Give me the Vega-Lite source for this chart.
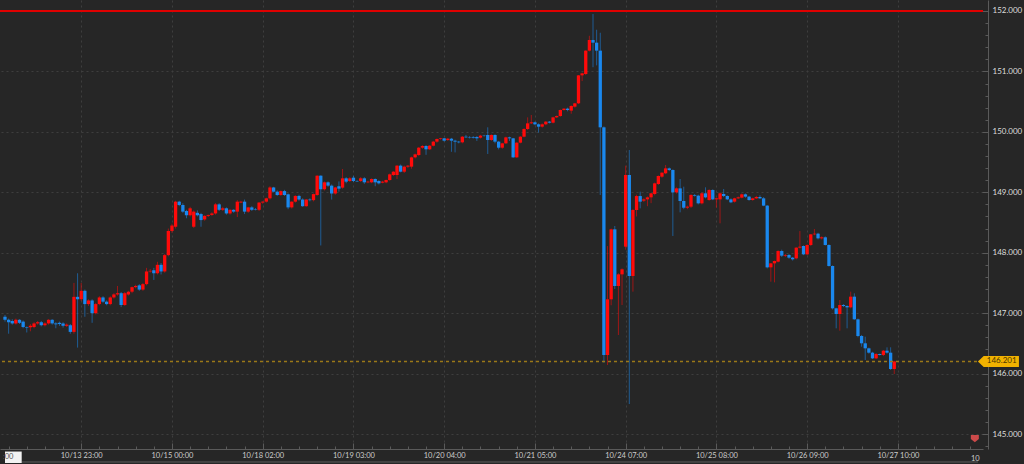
{
"$schema": "https://vega.github.io/schema/vega-lite/v6.json",
"width": 983, "height": 449,
"autosize": {"type": "none"},
"padding": {"left": 0, "top": 0, "right": 41, "bottom": 15},
"background": "#262626",
"config": {"view": {"stroke": null}, "axis": {"labelOverlap": false, "labelFlush": false, "labelBound": false, "tickCount": 1000}},
"datasets": {"one": [{}], "bars": [
{"i":-21,"o":146.94,"h":146.97,"l":146.86,"c":146.89},
{"i":-20,"o":146.89,"h":146.91,"l":146.66,"c":146.85},
{"i":-19,"o":146.87,"h":146.90,"l":146.81,"c":146.83},
{"i":-18,"o":146.83,"h":146.91,"l":146.81,"c":146.89},
{"i":-17,"o":146.89,"h":146.90,"l":146.82,"c":146.84},
{"i":-16,"o":146.86,"h":146.88,"l":146.75,"c":146.77},
{"i":-15,"o":146.77,"h":146.78,"l":146.68,"c":146.76},
{"i":-14,"o":146.765,"h":146.82,"l":146.70,"c":146.79},
{"i":-13,"o":146.77,"h":146.85,"l":146.75,"c":146.83},
{"i":-12,"o":146.83,"h":146.87,"l":146.81,"c":146.85},
{"i":-11,"o":146.85,"h":146.87,"l":146.78,"c":146.80},
{"i":-10,"o":146.80,"h":146.85,"l":146.78,"c":146.83},
{"i":-9,"o":146.83,"h":146.90,"l":146.81,"c":146.89},
{"i":-8,"o":146.89,"h":146.90,"l":146.81,"c":146.83},
{"i":-7,"o":146.83,"h":146.85,"l":146.75,"c":146.815},
{"i":-6,"o":146.84,"h":146.86,"l":146.79,"c":146.82},
{"i":-5,"o":146.83,"h":146.85,"l":146.76,"c":146.79},
{"i":-4,"o":146.79,"h":146.83,"l":146.77,"c":146.81},
{"i":-3,"o":146.80,"h":146.82,"l":146.66,"c":146.69},
{"i":-2,"o":146.69,"h":147.50,"l":146.66,"c":147.27},
{"i":-1,"o":147.27,"h":147.66,"l":146.43,"c":147.23},
{"i":0,"o":147.23,"h":147.50,"l":147.20,"c":147.37},
{"i":1,"o":147.37,"h":147.39,"l":146.94,"c":147.15},
{"i":2,"o":147.15,"h":147.23,"l":147.12,"c":147.21},
{"i":3,"o":147.21,"h":147.23,"l":146.84,"c":147.00},
{"i":4,"o":147.00,"h":147.17,"l":146.98,"c":147.15},
{"i":5,"o":147.15,"h":147.28,"l":147.13,"c":147.26},
{"i":6,"o":147.26,"h":147.28,"l":147.17,"c":147.19},
{"i":7,"o":147.19,"h":147.21,"l":147.13,"c":147.15},
{"i":8,"o":147.15,"h":147.28,"l":147.13,"c":147.26},
{"i":9,"o":147.26,"h":147.33,"l":147.24,"c":147.31},
{"i":10,"o":147.31,"h":147.45,"l":147.29,"c":147.33},
{"i":11,"o":147.33,"h":147.35,"l":147.10,"c":147.135},
{"i":12,"o":147.135,"h":147.35,"l":147.12,"c":147.33},
{"i":13,"o":147.31,"h":147.37,"l":147.29,"c":147.355},
{"i":14,"o":147.355,"h":147.44,"l":147.33,"c":147.43},
{"i":15,"o":147.43,"h":147.47,"l":147.41,"c":147.45},
{"i":16,"o":147.46,"h":147.48,"l":147.37,"c":147.39},
{"i":17,"o":147.39,"h":147.50,"l":147.37,"c":147.48},
{"i":18,"o":147.48,"h":147.75,"l":147.46,"c":147.69},
{"i":19,"o":147.69,"h":147.73,"l":147.67,"c":147.70},
{"i":20,"o":147.71,"h":147.75,"l":147.55,"c":147.66},
{"i":21,"o":147.66,"h":147.85,"l":147.64,"c":147.80},
{"i":22,"o":147.80,"h":147.83,"l":147.64,"c":147.69},
{"i":23,"o":147.69,"h":147.98,"l":147.67,"c":147.96},
{"i":24,"o":147.96,"h":148.40,"l":147.94,"c":148.36},
{"i":25,"o":148.36,"h":148.48,"l":148.33,"c":148.45},
{"i":26,"o":148.43,"h":148.86,"l":148.40,"c":148.845},
{"i":27,"o":148.845,"h":148.86,"l":148.77,"c":148.79},
{"i":28,"o":148.79,"h":148.82,"l":148.66,"c":148.68},
{"i":29,"o":148.69,"h":148.71,"l":148.57,"c":148.62},
{"i":30,"o":148.62,"h":148.76,"l":148.60,"c":148.735},
{"i":31,"o":148.43,"h":148.70,"l":148.41,"c":148.68},
{"i":32,"o":148.66,"h":148.70,"l":148.60,"c":148.62},
{"i":33,"o":148.64,"h":148.66,"l":148.43,"c":148.54},
{"i":34,"o":148.55,"h":148.62,"l":148.53,"c":148.61},
{"i":35,"o":148.61,"h":148.63,"l":148.59,"c":148.625},
{"i":36,"o":148.625,"h":148.67,"l":148.61,"c":148.65},
{"i":37,"o":148.65,"h":148.82,"l":148.63,"c":148.80},
{"i":38,"o":148.80,"h":148.82,"l":148.69,"c":148.71},
{"i":39,"o":148.71,"h":148.76,"l":148.69,"c":148.735},
{"i":40,"o":148.735,"h":148.75,"l":148.63,"c":148.65},
{"i":41,"o":148.65,"h":148.72,"l":148.63,"c":148.71},
{"i":42,"o":148.71,"h":148.72,"l":148.66,"c":148.68},
{"i":43,"o":148.68,"h":148.87,"l":148.59,"c":148.845},
{"i":44,"o":148.83,"h":148.86,"l":148.82,"c":148.845},
{"i":45,"o":148.845,"h":148.88,"l":148.64,"c":148.68},
{"i":46,"o":148.68,"h":148.76,"l":148.66,"c":148.75},
{"i":47,"o":148.75,"h":148.77,"l":148.69,"c":148.71},
{"i":48,"o":148.72,"h":148.74,"l":148.70,"c":148.71},
{"i":49,"o":148.71,"h":148.84,"l":148.69,"c":148.83},
{"i":50,"o":148.83,"h":148.85,"l":148.81,"c":148.845},
{"i":51,"o":148.845,"h":148.91,"l":148.83,"c":148.90},
{"i":52,"o":148.90,"h":149.10,"l":148.88,"c":149.08},
{"i":53,"o":149.08,"h":149.09,"l":149.00,"c":149.01},
{"i":54,"o":149.01,"h":149.03,"l":148.94,"c":148.955},
{"i":55,"o":148.955,"h":149.03,"l":148.94,"c":149.02},
{"i":56,"o":149.02,"h":149.04,"l":148.94,"c":148.955},
{"i":57,"o":148.966,"h":148.98,"l":148.72,"c":148.75},
{"i":58,"o":148.75,"h":148.85,"l":148.73,"c":148.845},
{"i":59,"o":148.845,"h":148.95,"l":148.83,"c":148.94},
{"i":60,"o":148.94,"h":148.96,"l":148.86,"c":148.88},
{"i":61,"o":148.88,"h":148.90,"l":148.76,"c":148.77},
{"i":62,"o":148.77,"h":148.89,"l":148.76,"c":148.88},
{"i":63,"o":148.88,"h":148.90,"l":148.85,"c":148.87},
{"i":64,"o":148.87,"h":148.98,"l":148.85,"c":148.97},
{"i":65,"o":148.955,"h":149.28,"l":148.94,"c":149.275},
{"i":66,"o":149.275,"h":149.28,"l":148.12,"c":149.05},
{"i":67,"o":149.05,"h":149.18,"l":149.03,"c":149.165},
{"i":68,"o":149.165,"h":149.18,"l":149.09,"c":149.11},
{"i":69,"o":149.11,"h":149.13,"l":148.88,"c":148.98},
{"i":70,"o":148.98,"h":149.09,"l":148.96,"c":149.08},
{"i":71,"o":149.10,"h":149.18,"l":149.01,"c":149.06},
{"i":72,"o":149.077,"h":149.385,"l":149.06,"c":149.231},
{"i":73,"o":149.231,"h":149.25,"l":149.15,"c":149.176},
{"i":74,"o":149.187,"h":149.25,"l":149.17,"c":149.231},
{"i":75,"o":149.242,"h":149.275,"l":149.17,"c":149.187},
{"i":76,"o":149.187,"h":149.20,"l":149.17,"c":149.18},
{"i":77,"o":149.187,"h":149.25,"l":149.17,"c":149.231},
{"i":78,"o":149.231,"h":149.25,"l":149.14,"c":149.165},
{"i":79,"o":149.165,"h":149.19,"l":149.15,"c":149.176},
{"i":80,"o":149.165,"h":149.23,"l":149.15,"c":149.22},
{"i":81,"o":149.22,"h":149.23,"l":149.10,"c":149.165},
{"i":82,"o":149.187,"h":149.20,"l":149.13,"c":149.148},
{"i":83,"o":149.159,"h":149.19,"l":149.15,"c":149.176},
{"i":84,"o":149.165,"h":149.21,"l":149.15,"c":149.203},
{"i":85,"o":149.203,"h":149.31,"l":149.19,"c":149.297},
{"i":86,"o":149.286,"h":149.35,"l":149.27,"c":149.341},
{"i":87,"o":149.286,"h":149.45,"l":149.22,"c":149.441},
{"i":88,"o":149.441,"h":149.46,"l":149.33,"c":149.341},
{"i":89,"o":149.341,"h":149.44,"l":149.32,"c":149.424},
{"i":90,"o":149.424,"h":149.45,"l":149.40,"c":149.441},
{"i":91,"o":149.424,"h":149.59,"l":149.39,"c":149.578},
{"i":92,"o":149.578,"h":149.64,"l":149.56,"c":149.628},
{"i":93,"o":149.617,"h":149.75,"l":149.60,"c":149.738},
{"i":94,"o":149.738,"h":149.78,"l":149.72,"c":149.766},
{"i":95,"o":149.766,"h":149.78,"l":149.62,"c":149.711},
{"i":96,"o":149.711,"h":149.78,"l":149.70,"c":149.771},
{"i":97,"o":149.771,"h":149.85,"l":149.76,"c":149.838},
{"i":98,"o":149.838,"h":149.89,"l":149.82,"c":149.882},
{"i":99,"o":149.882,"h":149.90,"l":149.87,"c":149.893},
{"i":100,"o":149.893,"h":149.90,"l":149.84,"c":149.854},
{"i":101,"o":149.865,"h":149.90,"l":149.85,"c":149.887},
{"i":102,"o":149.887,"h":149.90,"l":149.67,"c":149.854},
{"i":103,"o":149.854,"h":149.87,"l":149.66,"c":149.838},
{"i":104,"o":149.838,"h":149.85,"l":149.81,"c":149.827},
{"i":105,"o":149.827,"h":149.93,"l":149.81,"c":149.920},
{"i":106,"o":149.920,"h":149.95,"l":149.90,"c":149.909},
{"i":107,"o":149.912,"h":149.93,"l":149.89,"c":149.905},
{"i":108,"o":149.915,"h":149.93,"l":149.89,"c":149.904},
{"i":109,"o":149.915,"h":149.93,"l":149.85,"c":149.893},
{"i":110,"o":149.904,"h":149.95,"l":149.89,"c":149.937},
{"i":111,"o":149.937,"h":149.95,"l":149.92,"c":149.932},
{"i":112,"o":149.948,"h":150.075,"l":149.634,"c":149.865},
{"i":113,"o":149.865,"h":149.96,"l":149.85,"c":149.948},
{"i":114,"o":149.948,"h":149.96,"l":149.81,"c":149.838},
{"i":115,"o":149.838,"h":149.85,"l":149.71,"c":149.738},
{"i":116,"o":149.738,"h":149.82,"l":149.72,"c":149.810},
{"i":117,"o":149.810,"h":149.92,"l":149.80,"c":149.909},
{"i":118,"o":149.909,"h":149.92,"l":149.85,"c":149.893},
{"i":119,"o":149.893,"h":149.90,"l":149.57,"c":149.578},
{"i":120,"o":149.578,"h":149.83,"l":149.57,"c":149.821},
{"i":121,"o":149.821,"h":149.93,"l":149.81,"c":149.920},
{"i":122,"o":149.920,"h":150.06,"l":149.91,"c":150.047},
{"i":123,"o":150.047,"h":150.24,"l":150.03,"c":150.141},
{"i":124,"o":150.141,"h":150.28,"l":150.13,"c":150.158},
{"i":125,"o":150.158,"h":150.17,"l":150.11,"c":150.125},
{"i":126,"o":150.125,"h":150.14,"l":149.987,"c":150.086},
{"i":127,"o":150.086,"h":150.14,"l":150.07,"c":150.125},
{"i":128,"o":150.125,"h":150.18,"l":150.11,"c":150.169},
{"i":129,"o":150.169,"h":150.18,"l":150.14,"c":150.152},
{"i":130,"o":150.152,"h":150.25,"l":150.14,"c":150.240},
{"i":131,"o":150.240,"h":150.27,"l":150.23,"c":150.262},
{"i":132,"o":150.262,"h":150.37,"l":150.25,"c":150.362},
{"i":133,"o":150.362,"h":150.39,"l":150.35,"c":150.384},
{"i":134,"o":150.384,"h":150.40,"l":150.34,"c":150.362},
{"i":135,"o":150.351,"h":150.44,"l":150.30,"c":150.428},
{"i":136,"o":150.417,"h":150.48,"l":150.40,"c":150.472},
{"i":137,"o":150.472,"h":150.94,"l":150.46,"c":150.935},
{"i":138,"o":150.935,"h":150.98,"l":150.84,"c":150.968},
{"i":139,"o":150.957,"h":151.35,"l":150.94,"c":151.344},
{"i":140,"o":151.344,"h":151.59,"l":151.33,"c":151.520},
{"i":141,"o":151.520,"h":151.95,"l":151.07,"c":151.476},
{"i":142,"o":151.476,"h":151.69,"l":151.10,"c":151.344},
{"i":143,"o":151.344,"h":151.64,"l":148.955,"c":150.075},
{"i":144,"o":150.075,"h":150.09,"l":146.18,"c":146.307},
{"i":145,"o":146.307,"h":148.11,"l":146.142,"c":147.229},
{"i":146,"o":147.229,"h":148.40,"l":147.13,"c":148.387},
{"i":147,"o":148.387,"h":148.442,"l":147.40,"c":147.449},
{"i":148,"o":147.449,"h":147.66,"l":146.638,"c":147.642},
{"i":149,"o":147.642,"h":147.74,"l":147.135,"c":147.725},
{"i":150,"o":148.100,"h":149.441,"l":148.05,"c":149.286},
{"i":151,"o":149.286,"h":149.700,"l":145.496,"c":147.615},
{"i":152,"o":147.615,"h":148.72,"l":147.355,"c":148.707},
{"i":153,"o":148.707,"h":148.96,"l":148.60,"c":148.938},
{"i":154,"o":148.938,"h":149.010,"l":148.734,"c":148.845},
{"i":155,"o":148.861,"h":148.90,"l":148.84,"c":148.883},
{"i":156,"o":148.883,"h":148.93,"l":148.77,"c":148.916},
{"i":157,"o":148.916,"h":148.99,"l":148.82,"c":148.983},
{"i":158,"o":148.972,"h":149.16,"l":148.95,"c":149.148},
{"i":159,"o":149.137,"h":149.28,"l":149.12,"c":149.270},
{"i":160,"o":149.258,"h":149.33,"l":149.24,"c":149.325},
{"i":161,"o":149.314,"h":149.452,"l":149.30,"c":149.396},
{"i":162,"o":149.396,"h":149.41,"l":149.35,"c":149.369},
{"i":163,"o":149.369,"h":149.38,"l":148.277,"c":148.999},
{"i":164,"o":148.999,"h":149.08,"l":148.98,"c":149.065},
{"i":165,"o":149.065,"h":149.220,"l":148.668,"c":148.856},
{"i":166,"o":148.856,"h":149.093,"l":148.72,"c":148.745},
{"i":167,"o":148.745,"h":148.78,"l":148.72,"c":148.762},
{"i":168,"o":148.762,"h":148.97,"l":148.74,"c":148.955},
{"i":169,"o":148.955,"h":148.97,"l":148.93,"c":148.944},
{"i":170,"o":148.944,"h":148.96,"l":148.80,"c":148.817},
{"i":171,"o":148.817,"h":149.00,"l":148.80,"c":148.983},
{"i":172,"o":148.983,"h":149.082,"l":148.90,"c":148.916},
{"i":173,"o":148.872,"h":149.05,"l":148.86,"c":149.038},
{"i":174,"o":149.038,"h":149.05,"l":148.87,"c":148.883},
{"i":175,"o":148.883,"h":148.91,"l":148.745,"c":148.900},
{"i":176,"o":148.883,"h":149.00,"l":148.486,"c":148.983},
{"i":177,"o":148.972,"h":149.054,"l":148.92,"c":148.939},
{"i":178,"o":148.939,"h":148.95,"l":148.87,"c":148.883},
{"i":179,"o":148.883,"h":148.90,"l":148.82,"c":148.834},
{"i":180,"o":148.845,"h":148.91,"l":148.83,"c":148.900},
{"i":181,"o":148.900,"h":148.93,"l":148.89,"c":148.916},
{"i":182,"o":148.911,"h":148.98,"l":148.90,"c":148.966},
{"i":183,"o":148.966,"h":148.98,"l":148.91,"c":148.928},
{"i":184,"o":148.928,"h":148.94,"l":148.86,"c":148.872},
{"i":185,"o":148.872,"h":148.91,"l":148.86,"c":148.900},
{"i":186,"o":148.900,"h":148.94,"l":148.89,"c":148.922},
{"i":187,"o":148.922,"h":148.95,"l":148.89,"c":148.900},
{"i":188,"o":148.900,"h":148.92,"l":148.77,"c":148.779},
{"i":189,"o":148.779,"h":148.79,"l":147.74,"c":147.758},
{"i":190,"o":147.758,"h":147.83,"l":147.521,"c":147.824},
{"i":191,"o":147.824,"h":147.87,"l":147.510,"c":147.863},
{"i":192,"o":147.852,"h":148.04,"l":147.84,"c":148.028},
{"i":193,"o":148.028,"h":148.05,"l":147.93,"c":147.951},
{"i":194,"o":147.951,"h":147.98,"l":147.93,"c":147.962},
{"i":195,"o":147.962,"h":147.98,"l":147.90,"c":147.918},
{"i":196,"o":147.918,"h":147.93,"l":147.87,"c":147.891},
{"i":197,"o":147.907,"h":148.09,"l":147.89,"c":148.084},
{"i":198,"o":148.084,"h":148.359,"l":148.07,"c":148.100},
{"i":199,"o":148.111,"h":148.12,"l":147.96,"c":147.973},
{"i":200,"o":147.973,"h":148.14,"l":147.96,"c":148.128},
{"i":201,"o":148.128,"h":148.31,"l":148.11,"c":148.304},
{"i":202,"o":148.304,"h":148.392,"l":148.29,"c":148.315},
{"i":203,"o":148.315,"h":148.33,"l":148.22,"c":148.238},
{"i":204,"o":148.238,"h":148.27,"l":148.22,"c":148.255},
{"i":205,"o":148.255,"h":148.27,"l":148.12,"c":148.128},
{"i":206,"o":148.128,"h":148.14,"l":147.77,"c":147.780},
{"i":207,"o":147.780,"h":147.79,"l":147.06,"c":147.080},
{"i":208,"o":147.080,"h":147.09,"l":146.749,"c":146.986},
{"i":209,"o":146.986,"h":147.218,"l":146.710,"c":147.135},
{"i":210,"o":147.135,"h":147.15,"l":147.10,"c":147.118},
{"i":211,"o":147.118,"h":147.13,"l":146.749,"c":147.096},
{"i":212,"o":147.096,"h":147.356,"l":147.08,"c":147.273},
{"i":213,"o":147.273,"h":147.328,"l":146.89,"c":146.898},
{"i":214,"o":146.898,"h":146.91,"l":146.60,"c":146.622},
{"i":215,"o":146.622,"h":146.64,"l":146.445,"c":146.501},
{"i":216,"o":146.501,"h":146.611,"l":146.225,"c":146.418},
{"i":217,"o":146.418,"h":146.43,"l":146.33,"c":146.346},
{"i":218,"o":146.346,"h":146.36,"l":146.24,"c":146.252},
{"i":219,"o":146.252,"h":146.34,"l":146.24,"c":146.324},
{"i":220,"o":146.324,"h":146.33,"l":146.30,"c":146.308},
{"i":221,"o":146.308,"h":146.39,"l":146.29,"c":146.379},
{"i":222,"o":146.379,"h":146.434,"l":146.33,"c":146.346},
{"i":223,"o":146.346,"h":146.434,"l":146.06,"c":146.076},
{"i":224,"o":146.076,"h":146.21,"l":145.993,"c":146.201}
]},
"layer": [
{
 "data": {"name": "bars"},
 "mark": {"type": "rule", "strokeWidth": 1, "opacity": 0.55, "clip": true},
 "encoding": {
  "x": {"field": "i", "type": "quantitative", "scale": {"domain": [-21, 247.07], "nice": false, "zero": false},
   "axis": {"title": null, "tickCount": 1000, "values": [-20,-15,-10,-5,0,5,10,15,20,25,30,35,40,45,50,55,60,65,70,75,80,85,90,95,100,105,110,115,120,125,130,135,140,145,150,155,160,165,170,175,180,185,190,195,200,205,210,215,220,225,230,235,240,245],
    "labelExpr": "datum.value==0?'10/13 23:00':datum.value==25?'10/15 00:00':datum.value==50?'10/18 02:00':datum.value==75?'10/19 03:00':datum.value==100?'10/20 04:00':datum.value==125?'10/21 05:00':datum.value==150?'10/24 07:00':datum.value==175?'10/25 08:00':datum.value==200?'10/26 09:00':datum.value==225?'10/27 10:00':datum.value==245?'10':''",
    "labelAlign": {"condition": {"test": "datum.value == 245", "value": "left"}, "value": "center"},
    "labelFlush": false, "labelOverlap": false, "labelFont": "Lato", "labelFontSize": 7.5, "labelColor": "#cccccc", "labelPadding": 8,
    "tickSize": {"condition": {"test": "datum.value % 25 === 0", "value": -6}, "value": -3},
    "tickColor": "#5a5a5a", "domainColor": "#5a5a5a",
    "grid": true, "gridColor": "#3e3e3e", "gridDash": [2, 3],
    "gridOpacity": {"condition": {"test": "datum.value % 25 === 0", "value": 1}, "value": 0}}},
  "y": {"field": "l", "type": "quantitative", "scale": {"domain": [144.752, 152.182], "nice": false, "zero": false},
   "axis": {"title": null, "orient": "right", "offset": 5, "tickCount": 1000,
    "values": [144.8,145,145.2,145.4,145.6,145.8,146,146.2,146.4,146.6,146.8,147,147.2,147.4,147.6,147.8,148,148.2,148.4,148.6,148.8,149,149.2,149.4,149.6,149.8,150,150.2,150.4,150.6,150.8,151,151.2,151.4,151.6,151.8,152],
    "labelExpr": "abs(datum.value-round(datum.value))<0.01 ? format(datum.value, '.3f') : ''",
    "labelFont": "Lato", "labelFontSize": 8, "labelColor": "#dddddd", "labelPadding": 10, "labelOverlap": false,
    "tickSize": {"condition": {"test": "abs(datum.value-round(datum.value))<0.01", "value": -6}, "value": -3},
    "tickColor": "#5a5a5a", "domainColor": "#5a5a5a",
    "grid": true, "gridColor": "#3e3e3e", "gridDash": [2, 3],
    "gridOpacity": {"condition": {"test": "abs(datum.value-round(datum.value))<0.01", "value": 1}, "value": 0}}},
  "y2": {"field": "h"},
  "color": {"condition": {"test": "datum.c >= datum.o", "value": "#ff0a0a"}, "value": "#1a88ee"}
 }
},
{
 "data": {"name": "bars"},
 "mark": {"type": "bar", "size": 3.3, "orient": "vertical", "clip": true},
 "encoding": {
  "x": {"field": "i", "type": "quantitative"},
  "y": {"field": "o", "type": "quantitative"},
  "y2": {"field": "c"},
  "color": {"condition": {"test": "datum.c >= datum.o", "value": "#ff0a0a"}, "value": "#1a88ee"}
 }
},
{
 "data": {"name": "one"},
 "mark": {"type": "rule", "color": "#e00000", "strokeWidth": 2},
 "encoding": {"y": {"datum": 152, "type": "quantitative"}}
},
{
 "data": {"name": "one"},
 "mark": {"type": "rule", "color": "#9a7818", "strokeWidth": 1.5, "strokeDash": [3, 3]},
 "encoding": {"y": {"datum": 146.201, "type": "quantitative"}}
},
{
 "data": {"name": "one"},
 "mark": {"type": "rule", "color": "#5e5e5e", "strokeWidth": 1},
 "encoding": {"x": {"datum": -16.4, "type": "quantitative"}, "x2": {"datum": 247.07}, "y": {"datum": 144.537, "type": "quantitative"}}
},
{
 "data": {"name": "one"},
 "mark": {"type": "rect", "color": "#f2f2f2"},
 "encoding": {"x": {"datum": -21, "type": "quantitative"}, "x2": {"datum": -16.4}, "y": {"datum": 144.71, "type": "quantitative"}, "y2": {"datum": 144.52}}
},
{
 "data": {"name": "one"},
 "mark": {"type": "text", "text": ":00", "font": "Lato", "fontSize": 7.5, "color": "#555555", "align": "left", "baseline": "middle"},
 "encoding": {"x": {"datum": -21.6, "type": "quantitative"}, "y": {"datum": 144.615, "type": "quantitative"}}
},
{
 "data": {"name": "one"},
 "mark": {"type": "point", "filled": true, "opacity": 1, "color": "#f2b200", "shape": "M-1,0L-0.72,-0.27L1,-0.27L1,0.27L-0.72,0.27Z", "size": 1681},
 "encoding": {
  "x": {"datum": 252.7, "type": "quantitative"},
  "y": {"datum": 146.201, "type": "quantitative"}
 }
},
{
 "data": {"name": "one"},
 "mark": {"type": "text", "text": "146.201", "font": "Lato", "fontSize": 8, "color": "#4a3500", "align": "center", "baseline": "middle"},
 "encoding": {
  "x": {"datum": 253.6, "type": "quantitative"},
  "y": {"datum": 146.201, "type": "quantitative"}
 }
},
{
 "data": {"name": "one"},
 "mark": {"type": "point", "filled": true, "opacity": 1, "color": "#cc4a4a", "shape": "M-1,-0.8L1,-0.8L1,0.2L0,1L-1,0.2Z", "size": 64},
 "encoding": {
  "x": {"datum": 246.2, "type": "quantitative"},
  "y": {"datum": 144.93, "type": "quantitative"}
 }
}
]
}
